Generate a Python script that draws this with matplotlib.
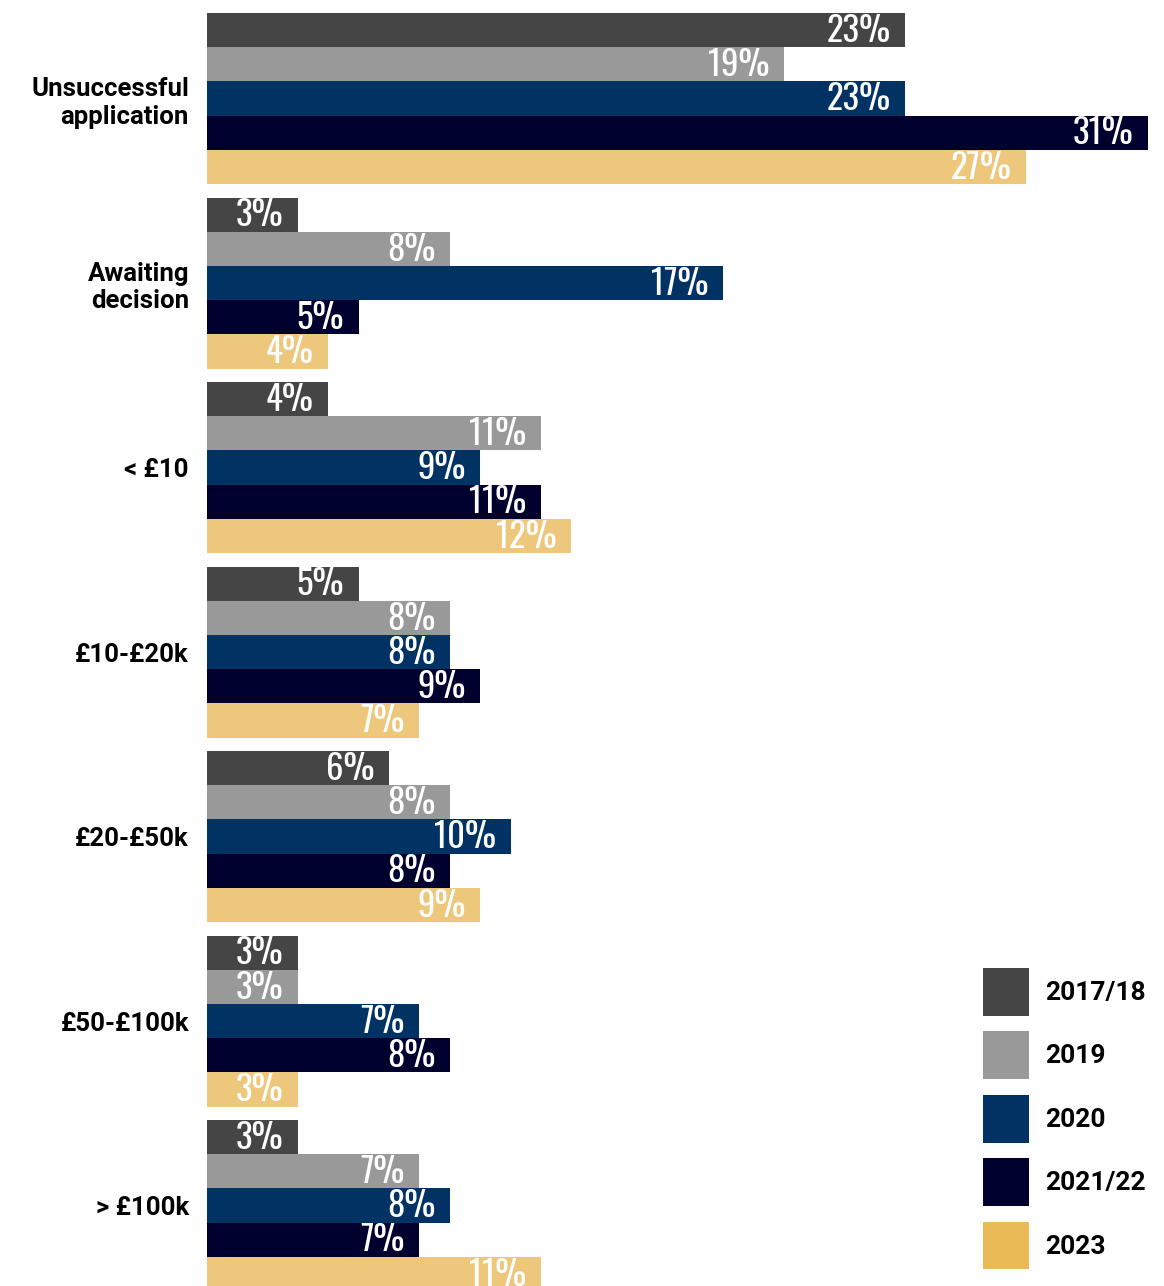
import matplotlib
matplotlib.use("Agg")
import matplotlib.pyplot as plt
from matplotlib.patches import Patch
from matplotlib import font_manager
import numpy as np

categories = ["Unsuccessful\napplication", "Awaiting\ndecision", "< £10",
              "£10-£20k", "£20-£50k", "£50-£100k", "> £100k"]
years = ["2017/18", "2019", "2020", "2021/22", "2023"]

v_2017_18 = [23, 3, 4, 5, 6, 3, 3]
v_2019 = [19, 8, 11, 8, 8, 3, 7]
v_2020 = [23, 17, 9, 8, 10, 7, 8]
v_2021_22 = [31, 5, 11, 9, 8, 8, 7]
v_2023 = [27, 4, 12, 7, 9, 3, 11]
series = [v_2017_18, v_2019, v_2020, v_2021_22, v_2023]

bar_colors = ["#454545", "#999999", "#003264", "#00002e", "#edc87c"]
legend_colors = ["#454545", "#999999", "#003264", "#00002e", "#e9ba55"]

# pick a narrow face for the value labels when one is installed
installed = {f.name for f in font_manager.fontManager.ttflist}
narrow_pref = ["Oswald", "Bebas Neue", "Roboto Condensed", "Liberation Sans Narrow",
               "DejaVu Sans Condensed", "Roboto"]
narrow = [f for f in narrow_pref if f in installed] or ["DejaVu Sans"]
label_font = ["Roboto", "DejaVu Sans"] if "Roboto" in installed else ["DejaVu Sans"]

W, H = 1164, 1286
fig = plt.figure(figsize=(W / 100, H / 100), dpi=100)

x_left, x_right = 207, 1163
y_top = 13
ax = fig.add_axes([x_left / W, 0, (x_right - x_left) / W, (H - y_top) / H])

n_series = len(series)
bar_h = 0.1854
group_h = bar_h * n_series
px_per_unit = 184.5
y0 = -group_h / 2
ax.set_ylim(y0 + (H - y_top) / px_per_unit, y0)
px_per_pct = 30.35
ax.set_xlim(0, (x_right - x_left) / px_per_pct)

pos = np.arange(len(categories))
for k, (vals, col) in enumerate(zip(series, bar_colors)):
    yk = pos - group_h / 2 + bar_h * (k + 0.5)
    bars = ax.barh(yk, vals, height=bar_h, color=col, linewidth=0)
    for b, v in zip(bars, vals):
        ax.annotate(f"{v}%", xy=(v, b.get_y() + bar_h / 2), xytext=(-10.5, -0.5),
                    textcoords="offset points", ha="right", va="center",
                    color="white", fontsize=25, fontweight="heavy",
                    family=narrow, annotation_clip=False, clip_on=True)

ax.set_yticks(pos)
ax.set_yticklabels(categories, fontsize=18.5, fontweight="bold", family=label_font,
                   linespacing=1.2)
ax.tick_params(axis="y", length=0, pad=13)
ax.set_xticks([])
for s in ax.spines.values():
    s.set_visible(False)

handles = [Patch(facecolor=c, edgecolor="none") for c in legend_colors]
fig.legend(handles, years, loc="upper left",
           bbox_to_anchor=(983 / W, 1 - 968 / H), bbox_transform=fig.transFigure,
           frameon=False, borderpad=0, borderaxespad=0,
           handlelength=1.75, handleheight=2.4, handletextpad=0.6, labelspacing=0.6,
           prop={"family": label_font, "weight": "bold", "size": 19})

fig.savefig("out.png", dpi=100)
